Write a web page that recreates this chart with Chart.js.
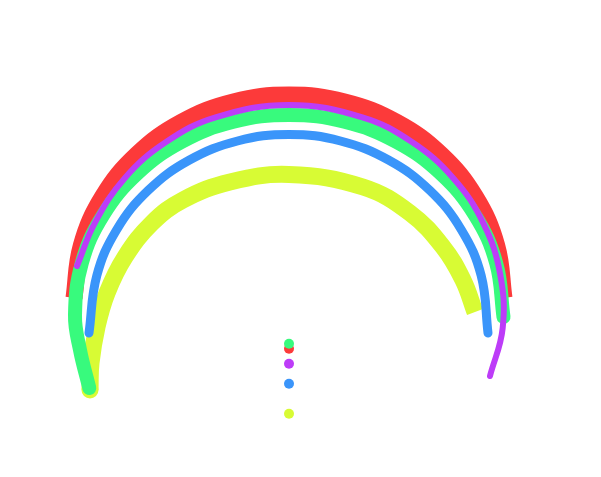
<!DOCTYPE html>
<html>
<head>
<meta charset="utf-8">
<script src="https://cdn.jsdelivr.net/npm/chart.js@4/dist/chart.umd.min.js"></script>
<style>
  html, body { margin: 0; padding: 0; background: #fff; }
  #wrap { width: 601px; height: 477px; }
</style>
</head>
<body>
<div id="wrap"><canvas id="arcs"></canvas></div>
<script>
// arc paths, [x, y] pairs
const redArc = [[-226, -58], [-218.7, -5.5], [-197.2, 43.5], [-163, 85.5], [-118.5, 117.8], [-66.6, 138.1], [-11, 145],
  [44.6, 138.1], [96.5, 117.8], [141, 85.5], [175.2, 43.5], [196.7, -5.5], [204, -58]];
const purpleArc = [[-223, -26], [-205.4, 16.6], [-175.3, 61.8], [-134, 97.9], [-84.4, 122.6], [-11, 135],
  [62.4, 122.6], [112, 97.9], [153.3, 61.8], [183.4, 16.6], [200.2, -34.4], [202.7, -87.9], [190, -136]];
const greenArc = [[-210.7, -148], [-220, -110], [-225, -75], [-218.2, -23.2], [-196.8, 25], [-162.7, 66.4],
  [-118.3, 98.2], [-66.5, 118.2], [-11, 125], [44.5, 118.2], [96.3, 98.2], [140.7, 66.4], [174.8, 25], [196.2, -23.2], [203.5, -77]];
const blueArc = [[-211, -93], [-203.2, -35.7], [-183.3, 10.3], [-151.7, 49.7], [-110.5, 80], [-62.5, 99], [-11, 105.5],
  [40.5, 99], [88.5, 80], [129.7, 49.7], [161.3, 10.3], [181.2, -35.7], [188, -93]];
const yellowArc = [[-210, -150], [-209, -123], [-203, -87], [-193, -53], [-175, -17], [-148, 17], [-117, 40],
  [-70, 58], [-11, 65.5], [63, 53], [110, 27], [143, -7], [163, -40], [175, -72]];

// the single dots under the arcs
const dotNames = ['red', 'purple', 'blue', 'yellow', 'green'];
const dotX = [-11, -11, -11, -11, -11];
const dotY = [-108.7, -123.7, -143.7, -173.7, -103.7];

const colors = {
  red: '#fc3a3a',
  purple: '#bd3cf8',
  green: '#38fa7d',
  blue: '#3a95fa',
  yellow: '#d8fb34'
};

function toPoints(arr) {
  return arr.map(p => ({ x: p[0], y: p[1] }));
}

function arcDataset(name, arr, width, cap) {
  return {
    label: name,
    data: toPoints(arr),
    showLine: true,
    tension: 0.4,
    borderColor: colors[name],
    backgroundColor: colors[name],
    borderWidth: width,
    borderCapStyle: cap,
    pointRadius: 0
  };
}

const ctx = document.getElementById('arcs').getContext('2d');

// dataset 0 ends up on top, so the list runs top -> bottom
const yellowSet = arcDataset('yellow', yellowArc, 17, 'butt');
yellowSet.pointRadius = c => c.dataIndex === 0 ? 8.5 : 0;
yellowSet.pointBorderWidth = 0;

new Chart(ctx, {
  type: 'scatter',
  data: {
    datasets: [
      {
        label: 'dots',
        data: dotX.map((x, i) => ({ x: x, y: dotY[i] })),
        pointRadius: 5,
        pointBorderWidth: 0,
        pointBackgroundColor: dotNames.map(n => colors[n]),
        showLine: false
      },
      arcDataset('purple', purpleArc, 6, 'round'),
      arcDataset('green', greenArc, 14, 'round'),
      arcDataset('blue', blueArc, 9, 'round'),
      arcDataset('red', redArc, 17, 'butt'),
      yellowSet
    ]
  },
  options: {
    responsive: true,
    maintainAspectRatio: false,
    animation: false,
    layout: { padding: 0, autoPadding: false },
    plugins: {
      legend: { display: false },
      tooltip: { enabled: false }
    },
    scales: {
      x: { type: 'linear', min: -300, max: 301, display: false },
      y: { type: 'linear', min: -237, max: 240, display: false }
    }
  }
});
</script>
</body>
</html>
